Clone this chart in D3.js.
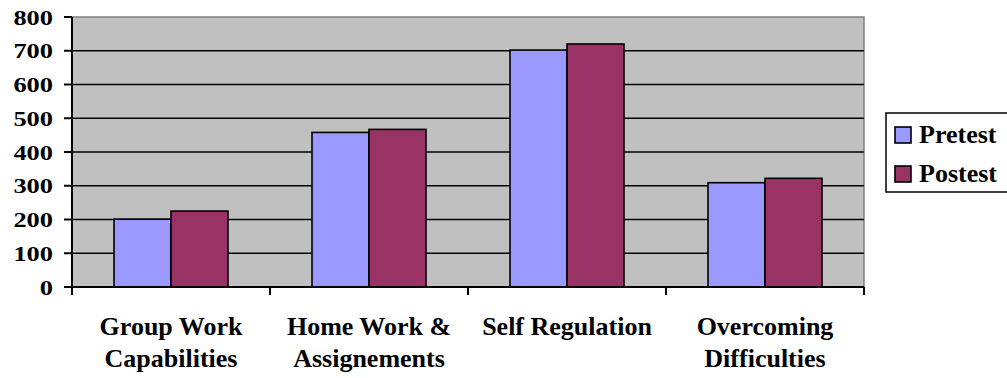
<!DOCTYPE html>
<html>
<head>
<meta charset="utf-8">
<script src="https://cdn.jsdelivr.net/npm/d3@7"></script>
<style>
  body { margin: 0; background: #fff; }
  text { font-family: "Liberation Serif", "Times New Roman", serif; font-weight: bold; fill: #000; }
</style>
</head>
<body>
<script>
var width = 1007, height = 378;

// data
var categories = ["Group Work|Capabilities", "Home Work &|Assignements", "Self Regulation", "Overcoming|Difficulties"];
var series = ["Pretest", "Postest"];
var pretest = [201, 458, 702, 309];
var postest = [225, 467, 720, 322];
var yTicks = [0, 100, 200, 300, 400, 500, 600, 700, 800];
var colors = ["#9999FF", "#993366"];

var values = [pretest, postest];

// plot area edges (note: "top" is taken by window.top)
var plotLeft = 72, plotRight = 864, plotTop = 17, plotBottom = 287;

var svg = d3.select("body").append("svg")
    .attr("width", width)
    .attr("height", height);

var x0 = d3.scaleBand().domain(categories).range([plotLeft, plotRight]).padding(0);
var x1 = d3.scaleBand().domain(series).range([42, 156]);
var y = d3.scaleLinear().domain([0, 800]).range([plotBottom, plotTop]);

// plot background
svg.append("rect")
    .attr("x", plotLeft).attr("y", plotTop)
    .attr("width", plotRight - plotLeft).attr("height", plotBottom - plotTop)
    .style("fill", "#C0C0C0")
    .style("stroke", "#808080")
    .style("stroke-width", 1.5);

// gridlines
svg.selectAll(".grid")
    .data(yTicks.filter(function(d){ return d > 0 && d < 800; }))
    .enter().append("line")
    .attr("x1", plotLeft).attr("x2", plotRight)
    .attr("y1", function(d){ return y(d); })
    .attr("y2", function(d){ return y(d); })
    .style("stroke", "#000")
    .style("stroke-width", 1.6);

// bars
var groups = svg.selectAll(".grp")
    .data(categories)
    .enter().append("g")
    .attr("transform", function(d){ return "translate(" + x0(d) + ",0)"; });

groups.selectAll("rect")
    .data(function(d, i){ return series.map(function(s, j){ return {s: s, v: values[j][i], j: j}; }); })
    .enter().append("rect")
    .attr("x", function(d){ return x1(d.s); })
    .attr("width", x1.bandwidth())
    .attr("y", function(d){ return y(d.v); })
    .attr("height", function(d){ return y(0) - y(d.v); })
    .style("fill", function(d){ return colors[d.j]; })
    .style("stroke", "#000")
    .style("stroke-width", 1.6);

// y axis
svg.append("line")
    .attr("x1", plotLeft).attr("x2", plotLeft).attr("y1", plotTop).attr("y2", plotBottom)
    .style("stroke", "#000").style("stroke-width", 2);

svg.selectAll(".ytick")
    .data(yTicks)
    .enter().append("line")
    .attr("x1", plotLeft - 8).attr("x2", plotLeft)
    .attr("y1", function(d){ return y(d); })
    .attr("y2", function(d){ return y(d); })
    .style("stroke", "#000").style("stroke-width", 2);

svg.selectAll(".ylab")
    .data(yTicks)
    .enter().append("text")
    .attr("transform", function(d){ return "translate(53," + (y(d) + 7.5) + ") scale(1.2,1)"; })
    .attr("text-anchor", "end")
    .style("font-size", "22px")
    .text(function(d){ return d; });

// x axis
svg.append("line")
    .attr("x1", plotLeft).attr("x2", plotRight).attr("y1", plotBottom).attr("y2", plotBottom)
    .style("stroke", "#000").style("stroke-width", 2);

var xTickPos = categories.map(function(c){ return x0(c); }).concat([plotRight]);
svg.selectAll(".xtick")
    .data(xTickPos)
    .enter().append("line")
    .attr("x1", function(d){ return d; }).attr("x2", function(d){ return d; })
    .attr("y1", plotBottom).attr("y2", plotBottom + 8)
    .style("stroke", "#000").style("stroke-width", 2);

// category labels, two lines each
svg.selectAll(".xlab")
    .data(categories)
    .enter().append("text")
    .attr("text-anchor", "middle")
    .style("font-size", "26px")
    .each(function(d){
        var t = d3.select(this);
        var cx = x0(d) + x0.bandwidth() / 2;
        d.split("|").forEach(function(line, i){
            t.append("tspan").attr("x", cx).attr("y", 335 + i * 32).text(line);
        });
    });

// legend
var legend = svg.append("g");
legend.append("rect")
    .attr("x", 886).attr("y", 113)
    .attr("width", 130).attr("height", 79)
    .style("fill", "#fff")
    .style("stroke", "#000")
    .style("stroke-width", 1.5);

var items = legend.selectAll(".item")
    .data(series)
    .enter().append("g")
    .attr("transform", function(d, i){ return "translate(895," + (127 + i * 39) + ")"; });

items.append("rect")
    .attr("width", 16).attr("height", 16)
    .style("fill", function(d, i){ return colors[i]; })
    .style("stroke", "#000")
    .style("stroke-width", 1.6);

items.append("text")
    .attr("x", 24).attr("y", 16)
    .style("font-size", "26px")
    .text(function(d){ return d; });
</script>
</body>
</html>
